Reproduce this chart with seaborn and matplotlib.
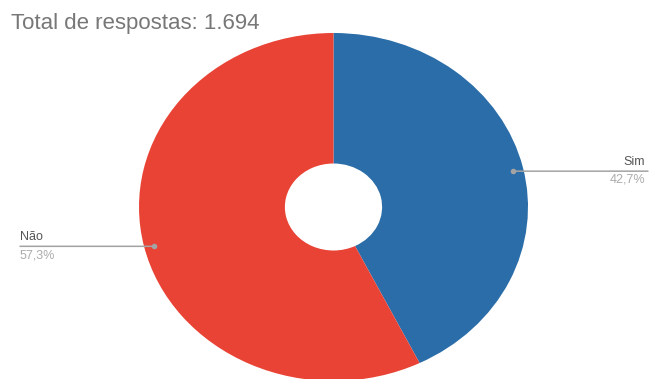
import numpy as np
import matplotlib
matplotlib.use("Agg")
import matplotlib.pyplot as plt
import seaborn as sns

# Data
labels = ["Sim", "Não"]
shares = [42.7, 57.3]
pct_labels = ["42,7%", "57,3%"]
colors = ["#2A6DA8", "#E94336"]
total_text = "Total de respostas: 1.694"

sns.set_theme(style="white")
plt.rcParams["font.family"] = ["Liberation Sans", "DejaVu Sans"]

fig = plt.figure(figsize=(6.49, 3.79), dpi=100)
fig.patch.set_facecolor("white")

# pie is stretched horizontally in the reference, so use a non-square axes
ax = fig.add_axes([139 / 649, -2 / 379, 389 / 649, 348 / 379])
wedges, _ = ax.pie(
    shares,
    colors=colors,
    startangle=90,
    counterclock=False,
    radius=1.0,
    wedgeprops=dict(width=0.75, edgecolor="none"),
)
ax.set_xlim(-1, 1)
ax.set_ylim(-1, 1)
ax.set_aspect("auto")
ax.axis("off")

line_col = "#A3A3A3"
for w, lab, pct in zip(wedges, labels, pct_labels):
    mid = np.deg2rad((w.theta1 + w.theta2) / 2)
    px, py = 0.95 * np.cos(mid), 0.95 * np.sin(mid) - 0.01
    right = px > 0
    xf = 648 / 649 if right else 20 / 649
    ax.annotate(
        "",
        xy=(px, py),
        xycoords="data",
        xytext=(xf, py),
        textcoords=("figure fraction", "data"),
        arrowprops=dict(arrowstyle="-", color=line_col, lw=1.1,
                        shrinkA=0, shrinkB=0),
        annotation_clip=False,
    )
    ax.plot([px], [py], "o", color=line_col, markersize=3, clip_on=False)
    tx = 645 / 649 if right else 20 / 649
    ha = "right" if right else "left"
    ax.annotate(lab, xy=(tx, py), xycoords=("figure fraction", "data"),
                xytext=(0, 2.5), textcoords="offset points", ha=ha, va="bottom",
                fontsize=9, color="#555555", annotation_clip=False)
    ax.annotate(pct, xy=(tx, py), xycoords=("figure fraction", "data"),
                xytext=(0, -2), textcoords="offset points", ha=ha, va="top",
                fontsize=9, color="#ABABAB", annotation_clip=False)

fig.text(11 / 649, 1 - 29 / 379, total_text, ha="left", va="baseline",
         fontsize=16, color="#777777")

fig.savefig("out.png", dpi=100, facecolor="white")
